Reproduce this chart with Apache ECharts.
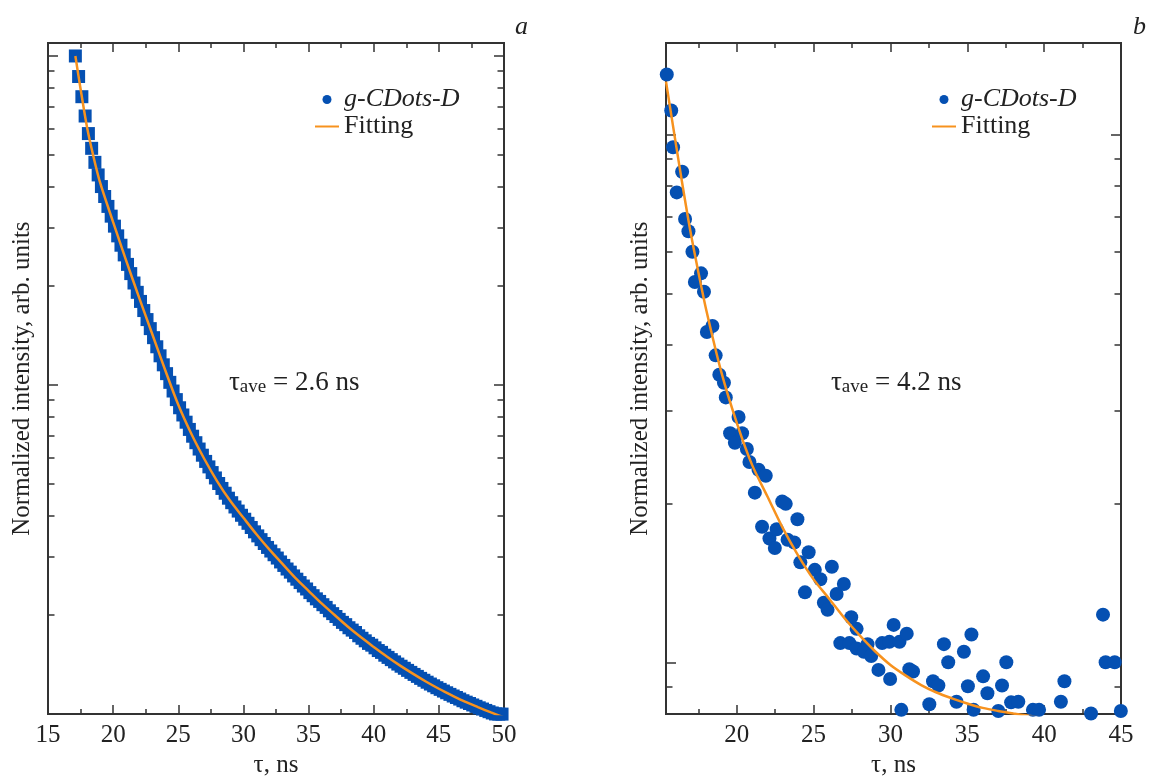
<!DOCTYPE html>
<html><head><meta charset="utf-8">
<script src="https://cdn.jsdelivr.net/npm/echarts@6/dist/echarts.min.js"></script>
<style>html,body{margin:0;padding:0;background:#fff}#c{width:1151px;height:783px}</style>
</head><body><div id="c"></div>
<script>
// ---- panel a : measured decay (squares) ----
const tauA = [
17.1,17.35,17.6,17.85,18.1,18.35,18.6,18.85,19.1,19.35,19.6,19.85,
20.1,20.35,20.6,20.85,21.1,21.35,21.6,21.85,22.1,22.35,22.6,22.85,
23.1,23.35,23.6,23.85,24.1,24.35,24.6,24.85,25.1,25.35,25.6,25.85,
26.1,26.35,26.6,26.85,27.1,27.35,27.6,27.85,28.1,28.35,28.6,28.85,
29.1,29.35,29.6,29.85,30.1,30.35,30.6,30.85,31.1,31.35,31.6,31.85,
32.1,32.35,32.6,32.85,33.1,33.35,33.6,33.85,34.1,34.35,34.6,34.85,
35.1,35.35,35.6,35.85,36.1,36.35,36.6,36.85,37.1,37.35,37.6,37.85,
38.1,38.35,38.6,38.85,39.1,39.35,39.6,39.85,40.1,40.35,40.6,40.85,
41.1,41.35,41.6,41.85,42.1,42.35,42.6,42.85,43.1,43.35,43.6,43.85,
44.1,44.35,44.6,44.85,45.1,45.35,45.6,45.85,46.1,46.35,46.6,46.85,
47.1,47.35,47.6,47.85,48.1,48.35,48.6,48.85,49.1,49.35,49.6,49.85];
const intensityA = [
1.000,0.866,0.752,0.657,0.581,0.524,0.475,0.435,0.401,0.374,0.349,0.326,
0.304,0.284,0.266,0.2486,0.2326,0.2181,0.2042,0.1913,0.1795,0.1684,0.1581,0.1484,
0.1393,0.1307,0.1227,0.1152,0.1083,0.1019,0.0959,0.0903,0.0853,0.0811,0.0771,0.0733,
0.0699,0.0668,0.0639,0.0612,0.0586,0.0564,0.0542,0.0522,0.0502,0.0485,0.0469,0.0453,
0.0439,0.0426,0.0414,0.0402,0.0391,0.0380,0.0369,0.0358,0.0348,0.0339,0.0330,0.0321,
0.0313,0.0305,0.0298,0.0290,0.0283,0.0276,0.0270,0.0263,0.0257,0.0251,0.0245,0.0240,
0.0234,0.0229,0.0224,0.0220,0.0215,0.0211,0.0206,0.0202,0.0198,0.0194,0.0190,0.0187,
0.0183,0.0180,0.0177,0.0173,0.0170,0.0167,0.0164,0.0162,0.0159,0.0156,0.0154,0.0151,
0.01487,0.01464,0.01441,0.01419,0.01398,0.01378,0.01358,0.01339,0.01320,0.01302,0.01284,0.01267,
0.01250,0.01234,0.01219,0.01203,0.01189,0.01175,0.01161,0.01148,0.01135,0.01123,0.01111,0.01098,
0.01087,0.01077,0.01066,0.01056,0.01045,0.01036,0.01026,0.01017,0.01008,0.01001,0.01000,0.01000];
// ---- panel a : fitting curve ----
const fitTauA = [17.1,17.5,18,18.5,19,20,21,22,23,24,25,26,27,28,29,30,31,32,33,34,35,36,37,38,39,40,41,42,43,44,45,46,47,48,49,50];
const fitA = [1.000,0.794,0.606,0.4926,0.412,0.3126,0.2388,0.1841,0.1429,0.1109,0.0871,0.0711,0.0596,0.0509,0.0444,0.0395,0.0352,0.0316,0.0286,0.0259,0.0237,0.0217,0.0200,0.01845,0.01714,0.0160,0.01496,0.01406,0.01327,0.01256,0.01194,0.0114,0.01091,0.0105,0.01012,0.00977];

// ---- panel b : measured decay (circles) ----
const tauB = [15.45,15.74,15.86,16.10,16.45,16.64,16.86,17.12,17.28,17.68,17.87,18.06,18.42,18.63,18.87,19.17,19.29,19.57,19.88,20.12,
20.35,20.66,20.83,21.18,21.42,21.65,21.89,22.13,22.48,22.60,22.96,23.19,23.31,23.74,23.95,24.14,24.44,24.68,25.08,25.44,
25.67,25.91,26.19,26.50,26.74,26.97,27.33,27.45,27.80,27.80,28.27,28.51,28.75,29.22,29.46,29.93,29.98,30.21,30.59,30.71,
31.06,31.23,31.47,32.53,32.77,33.12,33.48,33.76,34.30,34.78,35.04,35.27,35.41,36.03,36.31,37.02,37.26,37.54,37.85,38.32,
39.27,39.67,41.09,41.32,43.05,43.83,44.00,44.59,44.99];
const intensityB = [1.299,1.110,0.946,0.777,0.850,0.692,0.656,0.600,0.526,0.546,0.504,0.423,0.434,0.382,0.351,0.339,0.318,0.272,0.261,0.292,
0.272,0.254,0.240,0.210,0.232,0.181,0.226,0.172,0.165,0.179,0.202,0.200,0.171,0.169,0.187,0.155,0.136,0.162,0.150,0.144,
0.130,0.126,0.152,0.135,0.109,0.141,0.109,0.122,0.116,0.1065,0.105,0.1085,0.103,0.0970,0.109,0.1096,0.0932,0.118,0.1096,0.0815,
0.1136,0.0973,0.0963,0.0835,0.0923,0.0906,0.1085,0.1003,0.0844,0.105,0.0903,0.1132,0.0815,0.0943,0.0876,0.0811,0.0906,0.1003,0.0842,0.0844,
0.0815,0.0815,0.0844,0.0923,0.0802,0.1234,0.1003,0.1003,0.0811];
// ---- panel b : fitting curve ----
const fitTauB = [15.4,16,16.5,17,17.5,18,19,20,21,22,23,24,25,26,27,28,29,30,31,32,33,34,35,36,37,38,39,40];
const fitB = [1.259,0.977,0.794,0.653,0.550,0.468,0.355,0.285,0.237,0.2065,0.1799,0.1596,0.1439,0.1324,0.1216,0.1127,0.1052,0.0991,0.0946,0.0908,0.0879,0.0857,0.0838,0.0822,0.0811,0.0802,0.0794,0.0787];

// ---- ticks ----
const xLabelsA = [15,20,25,30,35,40,45,50];
const xMinorA = [17.5,22.5,27.5,32.5,37.5,42.5,47.5];
const xLabelsB = [20,25,30,35,40,45];
const xMinorB = [17.5,22.5,27.5,32.5,37.5,42.5];
const yMajorA = [0.01,0.1,1];
const yMinorA = [0.02,0.03,0.04,0.05,0.06,0.07,0.08,0.09,0.2,0.3,0.4,0.5,0.6,0.7,0.8,0.9];
const yMajorB = [0.1,1];
const yMinorB = [0.09,0.2,0.3,0.4,0.5,0.6,0.7,0.8,0.9];

const labelsText = {seriesName: 'g-CDots-D', fitName: 'Fitting', xName: 'τ, ns', yName: 'Normalized intensity, arb. units', tauA: '2.6', tauB: '4.2'};

const FONT = 'Liberation Serif';
const AX = '#333333';
const BLUE = '#0550b2';
const ORANGE = '#f7921e';

function zipPairs(xs, ys) { return xs.map((x, i) => [x, ys[i]]); }

function xAxes(g, min, max, major, minor) {
  const base = {gridIndex: g, type: 'value', min: min, max: max, splitLine: {show: false}, axisLine: {show: false}};
  const tick = (vals, len) => ({show: true, inside: true, length: len, customValues: vals, lineStyle: {color: AX, width: 1.5}});
  return [
    Object.assign({}, base, {position: 'bottom', axisTick: tick(major, 9),
      axisLabel: {show: true, customValues: major, margin: 9, fontFamily: FONT, fontSize: 25, color: '#222'},
      name: labelsText.xName, nameLocation: 'middle', nameGap: 31,
      nameTextStyle: {fontFamily: FONT, fontSize: 25, color: '#222'}}),
    Object.assign({}, base, {position: 'bottom', axisTick: tick(minor, 5), axisLabel: {show: false}}),
    Object.assign({}, base, {position: 'top', axisTick: tick(major, 9), axisLabel: {show: false}}),
    Object.assign({}, base, {position: 'top', axisTick: tick(minor, 5), axisLabel: {show: false}})
  ];
}
function yAxes(g, min, max, major, minor) {
  const base = {gridIndex: g, type: 'log', logBase: 10, min: min, max: max, splitLine: {show: false}, axisLine: {show: false}, axisLabel: {show: false}};
  const tick = (vals, len) => ({show: true, inside: true, length: len, customValues: vals, lineStyle: {color: AX, width: 1.5}});
  return [
    Object.assign({}, base, {position: 'left', axisTick: tick(major, 10),
      name: labelsText.yName, nameLocation: 'middle', nameGap: 13,
      nameTextStyle: {fontFamily: FONT, fontSize: 25, color: '#222'}}),
    Object.assign({}, base, {position: 'left', axisTick: tick(minor, 6.5)}),
    Object.assign({}, base, {position: 'right', axisTick: tick(major, 10)}),
    Object.assign({}, base, {position: 'right', axisTick: tick(minor, 6.5)})
  ];
}

function legendFor(left) {
  return {
    left: left, top: 86, padding: 0, orient: 'vertical', itemWidth: 24, itemHeight: 9, itemGap: 0,
    selectedMode: false,
    textStyle: {fontFamily: FONT, fontSize: 26, color: '#222', lineHeight: 27},
    data: [
      {name: labelsText.seriesName, icon: 'circle', itemStyle: {color: BLUE, opacity: 1}, textStyle: {fontStyle: 'italic'}},
      {name: labelsText.fitName, itemStyle: {opacity: 0, borderWidth: 0}}
    ]
  };
}

function tauText(x, val) {
  return {
    type: 'text', x: x, y: 383,
    style: {
      text: '{a|τ}{b|ave}{a| = ' + val + ' ns}',
      verticalAlign: 'middle',
      rich: {
        a: {fontFamily: FONT, fontSize: 27, lineHeight: 28, fill: '#222'},
        b: {fontFamily: FONT, fontSize: 19, lineHeight: 14, fill: '#222', verticalAlign: 'bottom'}
      }
    }
  };
}

const chart = echarts.init(document.getElementById('c'), null, {renderer: 'canvas'});
chart.setOption({
  animation: false,
  backgroundColor: '#ffffff',
  grid: [
    {left: 48, top: 43, width: 456, height: 681, show: true, borderColor: AX, borderWidth: 2, backgroundColor: 'transparent'},
    {left: 666, top: 43, width: 455, height: 681, show: true, borderColor: AX, borderWidth: 2, backgroundColor: 'transparent'}
  ],
  xAxis: [].concat(xAxes(0, 15, 50, xLabelsA, xMinorA), xAxes(1, 15.4, 45, xLabelsB, xMinorB)),
  yAxis: [].concat(yAxes(0, 0.01, 1.095, yMajorA, yMinorA), yAxes(1, 0.08, 1.49, yMajorB, yMinorB)),
  legend: [legendFor(314), legendFor(931)],
  series: [
    {type: 'scatter', name: labelsText.seriesName, xAxisIndex: 0, yAxisIndex: 0, symbol: 'rect', symbolSize: 13,
     itemStyle: {color: BLUE, opacity: 1}, data: zipPairs(tauA, intensityA)},
    {type: 'line', name: labelsText.fitName, xAxisIndex: 0, yAxisIndex: 0, symbol: 'none', smooth: 0.3,
     lineStyle: {color: ORANGE, width: 2.5}, itemStyle: {color: ORANGE}, data: zipPairs(fitTauA, fitA)},
    {type: 'scatter', name: labelsText.seriesName, xAxisIndex: 4, yAxisIndex: 4, symbol: 'circle', symbolSize: 14,
     itemStyle: {color: BLUE, opacity: 1}, data: zipPairs(tauB, intensityB)},
    {type: 'line', name: labelsText.fitName, xAxisIndex: 4, yAxisIndex: 4, symbol: 'none', smooth: 0.3,
     lineStyle: {color: ORANGE, width: 2.5}, itemStyle: {color: ORANGE}, data: zipPairs(fitTauB, fitB)}
  ],
  graphic: [
    tauText(229, labelsText.tauA),
    tauText(831, labelsText.tauB),
    {type: 'text', x: 515, y: 14, style: {text: 'a', fontFamily: FONT, fontSize: 26, fontStyle: 'italic', fill: '#222'}},
    {type: 'text', x: 1133, y: 14, style: {text: 'b', fontFamily: FONT, fontSize: 26, fontStyle: 'italic', fill: '#222'}}
  ]
});
</script>
</body></html>
